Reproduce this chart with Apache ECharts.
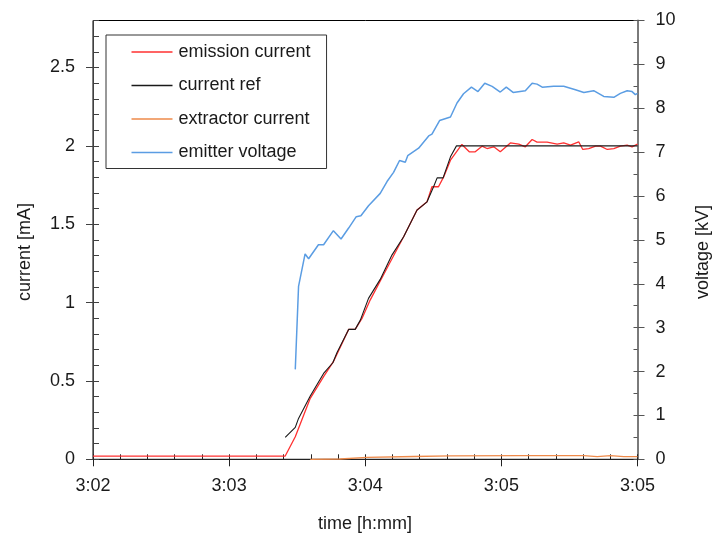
<!DOCTYPE html>
<html>
<head>
<meta charset="utf-8">
<script src="https://cdn.jsdelivr.net/npm/echarts@6/dist/echarts.min.js"></script>
<style>html,body{margin:0;padding:0;background:#fff}#c{width:712px;height:540px}</style>
</head>
<body>
<div id="c"></div>
<script>
// time in seconds after 3:02:00
var xTickValues = [0, 50, 100, 150, 200];
var xTickLabels = ['3:02', '3:03', '3:04', '3:05', '3:05'];
var leftTickValues = [0, 0.5, 1, 1.5, 2, 2.5];
var rightTickValues = [0, 1, 2, 3, 4, 5, 6, 7, 8, 9, 10];

var emissionT = [0, 70.6, 74.3, 79.8, 84.7, 88.3, 93.9, 96.3, 98.8, 101.8, 108.6, 114.1, 119.0, 122.7, 124.5, 126.9, 128.8, 131.3, 135.5, 138.2, 140.4, 142.9, 144.7, 147.2, 149.6, 153.3, 156.4, 158.8, 161.3, 163.1, 166.8, 170.5, 172.9, 175.4, 178.4, 179.9, 182.1, 184.6, 186.4, 188.9, 191.3, 193.7, 196.2, 198.0, 200];
var emissionI = [0.02, 0.021, 0.144, 0.389, 0.527, 0.623, 0.829, 0.829, 0.899, 1.016, 1.240, 1.420, 1.590, 1.643, 1.739, 1.739, 1.802, 1.909, 2.009, 1.962, 1.962, 1.998, 1.983, 1.994, 1.962, 2.019, 2.011, 1.994, 2.041, 2.024, 2.024, 2.011, 2.019, 2.005, 2.026, 1.977, 1.983, 1.998, 1.998, 1.977, 1.983, 1.998, 2.005, 1.994, 2.011];

var refT = [70.6, 74.3, 75.5, 79.8, 84.7, 88.1, 89.6, 93.9, 96.3, 98.2, 101.2, 105.5, 109.8, 114.1, 119.0, 122.7, 125.1, 126.4, 128.6, 131.3, 133.5, 200];
var refI = [0.140, 0.204, 0.261, 0.404, 0.548, 0.616, 0.680, 0.829, 0.829, 0.888, 1.027, 1.148, 1.303, 1.420, 1.590, 1.643, 1.739, 1.796, 1.796, 1.930, 2.0, 2.0];

var extractorT = [79.8, 90.8, 100.6, 117.8, 131.3, 157.0, 180.3, 185.2, 190.1, 195.0, 200];
var extractorI = [0.0, 0.002, 0.012, 0.018, 0.022, 0.023, 0.023, 0.017, 0.024, 0.017, 0.017];

var voltageT = [74.3, 75.5, 77.9, 79.2, 82.8, 84.7, 88.3, 91.1, 93.9, 96.7, 98.4, 101.2, 105.5, 108.0, 110.4, 112.6, 114.7, 115.6, 119.6, 123.3, 124.5, 127.3, 131.3, 133.7, 136.1, 139.0, 141.4, 143.9, 146.6, 149.6, 151.8, 154.3, 158.8, 161.3, 163.1, 165.0, 169.2, 172.9, 177.2, 180.3, 183.9, 187.6, 191.3, 193.7, 196.2, 198.0, 199.2, 200];
var voltageV = [2.05, 3.94, 4.68, 4.57, 4.89, 4.89, 5.21, 5.02, 5.27, 5.53, 5.55, 5.78, 6.06, 6.33, 6.54, 6.81, 6.77, 6.92, 7.09, 7.37, 7.41, 7.72, 7.80, 8.12, 8.33, 8.48, 8.38, 8.57, 8.50, 8.37, 8.48, 8.36, 8.40, 8.57, 8.55, 8.48, 8.50, 8.50, 8.42, 8.36, 8.40, 8.27, 8.25, 8.34, 8.40, 8.38, 8.31, 8.34];

function pairs(a, b) { return a.map(function (v, i) { return [v, b[i]]; }); }
function steps(max, step) { var r = []; var n = Math.round(max / step); for (var i = 0; i <= n; i++) r.push(Math.round(i * step * 1000) / 1000); return r; }

var FONT = 'Liberation Sans, Arial, sans-serif';
var chart = echarts.init(document.getElementById('c'), null, { renderer: 'canvas' });

var hiddenAxisBase = { axisLine: { show: false }, axisLabel: { show: false }, splitLine: { show: false } };

chart.setOption({
  animation: false,
  backgroundColor: '#fff',
  grid: { left: 93, right: 74.5, top: 20.5, bottom: 80.7, show: true, borderColor: '#000', borderWidth: 1, backgroundColor: 'transparent' },
  legend: {
    orient: 'vertical', left: 106, top: 35,
    padding: [7, 16, 6, 25.5],
    icon: 'rect',
    itemWidth: 41, itemHeight: 1.6, itemGap: 13.5,
    borderColor: '#333', borderWidth: 1,
    textStyle: { fontFamily: FONT, fontSize: 18, color: '#1a1a1a', lineHeight: 20, padding: [0, 0, 0, 1] },
    data: ['emission current', 'current ref', 'extractor current', 'emitter voltage']
  },
  xAxis: [
    {
      type: 'value', position: 'bottom', min: 0, max: 200,
      axisLine: { lineStyle: { color: '#222', width: 1 } },
      axisTick: { customValues: xTickValues, inside: false, length: 7, lineStyle: { color: '#222' } },
      axisLabel: { customValues: xTickValues, margin: 18, fontFamily: FONT, fontSize: 18, color: '#1a1a1a',
        formatter: function (v) { var i = xTickValues.indexOf(v); return i >= 0 ? xTickLabels[i] : ''; } },
      splitLine: { show: false }
    },
    Object.assign({ type: 'value', position: 'bottom', min: 0, max: 200,
      axisTick: { customValues: steps(200, 10), inside: true, length: 5, lineStyle: { color: '#222' } } }, hiddenAxisBase)
  ],
  yAxis: [
    {
      type: 'value', position: 'left', min: 0, max: 2.8,
      axisLine: { show: true, lineStyle: { color: '#404040', width: 1 } },
      axisTick: { customValues: leftTickValues, inside: false, length: 7, lineStyle: { color: '#404040' } },
      axisLabel: { customValues: leftTickValues, margin: 18, fontFamily: FONT, fontSize: 18, color: '#1a1a1a' },
      splitLine: { show: false }
    },
    Object.assign({ type: 'value', position: 'left', min: 0, max: 2.8,
      axisTick: { customValues: steps(2.8, 0.1), inside: true, length: 6, lineStyle: { color: '#404040' } } }, hiddenAxisBase),
    {
      type: 'value', position: 'right', min: 0, max: 10,
      axisLine: { show: true, lineStyle: { color: '#7a7a7a', width: 2 } },
      axisTick: { customValues: rightTickValues, inside: false, length: 7, lineStyle: { color: '#555', width: 1 } },
      axisLabel: { customValues: rightTickValues, margin: 18, fontFamily: FONT, fontSize: 18, color: '#1a1a1a' },
      splitLine: { show: false }
    },
    Object.assign({ type: 'value', position: 'right', min: 0, max: 10,
      axisTick: { customValues: steps(10, 0.5), inside: true, length: 4, lineStyle: { color: '#555' } } }, hiddenAxisBase)
  ],
  graphic: [
    { type: 'text', x: 365, y: 524, style: { text: 'time [h:mm]', font: '18px ' + FONT, fill: '#1a1a1a', textAlign: 'center', textVerticalAlign: 'middle' } },
    { type: 'text', x: 25, y: 252, rotation: Math.PI / 2, style: { text: 'current [mA]', font: '18px ' + FONT, fill: '#1a1a1a', textAlign: 'center', textVerticalAlign: 'middle' } },
    { type: 'text', x: 703, y: 252, rotation: Math.PI / 2, style: { text: 'voltage [kV]', font: '18px ' + FONT, fill: '#1a1a1a', textAlign: 'center', textVerticalAlign: 'middle' } }
  ],
  series: [
    { name: 'emitter voltage', type: 'line', xAxisIndex: 0, yAxisIndex: 2, data: pairs(voltageT, voltageV), symbol: 'none', smooth: false, lineStyle: { color: '#5b9de3', width: 1.5 }, itemStyle: { color: '#5b9de3' } },
    { name: 'extractor current', type: 'line', xAxisIndex: 0, yAxisIndex: 0, data: pairs(extractorT, extractorI), symbol: 'none', lineStyle: { color: '#ee8a4a', width: 1.3 }, itemStyle: { color: '#ee8a4a' } },
    { name: 'emission current', type: 'line', xAxisIndex: 0, yAxisIndex: 0, data: pairs(emissionT, emissionI), symbol: 'none', lineStyle: { color: '#ff3030', width: 1.3 }, itemStyle: { color: '#ff3030' } },
    { name: 'current ref', type: 'line', xAxisIndex: 0, yAxisIndex: 0, data: pairs(refT, refI), symbol: 'none', lineStyle: { color: '#1a1a1a', width: 1.1 }, itemStyle: { color: '#1a1a1a' } }
  ]
});
</script>
</body>
</html>
